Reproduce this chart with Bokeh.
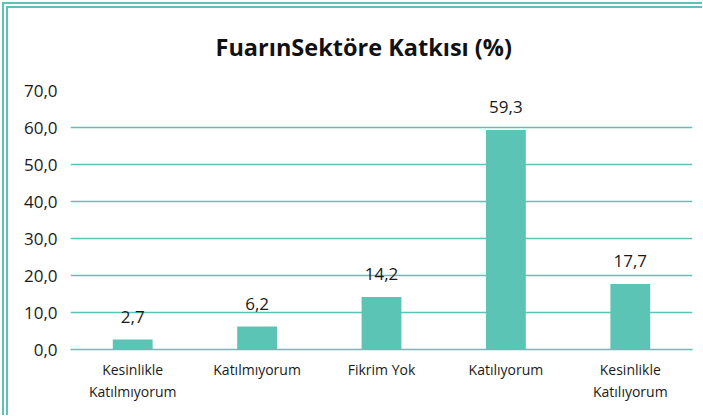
from bokeh.plotting import figure
from bokeh.models import ColumnDataSource, FixedTicker, LabelSet, Range1d, InlineStyleSheet
from bokeh.core.properties import value
from bokeh.embed import file_html
from bokeh.resources import INLINE

categories = ["Kesinlikle\nKatılmıyorum", "Katılmıyorum", "Fikrim Yok", "Katılıyorum", "Kesinlikle\nKatılıyorum"]
values = [2.7, 6.2, 14.2, 59.3, 17.7]
y_ticks = [0, 10, 20, 30, 40, 50, 60, 70]
y_tick_labels = ["0,0", "10,0", "20,0", "30,0", "40,0", "50,0", "60,0", "70,0"]
title_text = "FuarınSektöre Katkısı (%)"

TEAL = "#5bc4b5"
FONT = "Open Sans"
TXT = "#1a1a1a"

positions = list(range(len(categories)))
source = ColumnDataSource(dict(
    pos=positions,
    val=values,
    lab=[f"{v:.1f}".replace(".", ",") for v in values],
))

p = figure(
    x_range=Range1d(-0.5, len(categories) - 0.5),
    y_range=Range1d(0, 70),
    width=703, height=416,
    output_backend="svg", toolbar_location=None,
    min_border_left=70, min_border_right=11,
    min_border_top=90, min_border_bottom=67,
    title=title_text,
)
border_css = (
    ":host::after { content: ''; position: absolute; left: 2px; top: 2px; "
    "width: 700px; height: 413px; box-sizing: border-box; pointer-events: none; "
    "border-top: 6px double " + TEAL + "; border-left: 6px double " + TEAL + "; }"
)
p.stylesheets = [InlineStyleSheet(css=border_css)]
p.outline_line_color = None
p.background_fill_color = "white"
p.border_fill_color = "white"

p.title.align = "left"
p.title.offset = 145
p.title.text_font = FONT
p.title.text_font_style = "bold"
p.title.text_font_size = "23.5px"
p.title.text_color = "#111111"
p.title.standoff = 56

p.vbar(x="pos", top="val", width=0.32, source=source, color=TEAL, line_color=None)

labels = LabelSet(x="pos", y="val", text="lab", source=source, text_align="center",
                  text_baseline="alphabetic", y_offset=17, text_font=value(FONT),
                  text_font_size=value("17px"), text_color=TXT)
p.add_layout(labels)

p.ygrid.ticker = FixedTicker(ticks=y_ticks)
p.ygrid.grid_line_color = TEAL
p.ygrid.grid_line_width = 1.3
p.xgrid.grid_line_color = None

p.yaxis.ticker = FixedTicker(ticks=y_ticks)
p.yaxis.major_label_overrides = {t: l for t, l in zip(y_ticks, y_tick_labels)}
p.yaxis.axis_line_color = None
p.yaxis.major_tick_line_color = None
p.yaxis.minor_tick_line_color = None
p.yaxis.major_label_standoff = 7
p.yaxis.major_label_text_font = FONT
p.yaxis.major_label_text_font_size = "17px"
p.yaxis.major_label_text_color = TXT

p.xaxis.ticker = FixedTicker(ticks=positions)
p.xaxis.major_label_overrides = {i: c for i, c in zip(positions, categories)}
p.xaxis.axis_line_color = TEAL
p.xaxis.axis_line_width = 1.3
p.xaxis.major_tick_line_color = None
p.xaxis.minor_tick_line_color = None
p.xaxis.major_label_standoff = 4
p.xaxis.major_label_text_font = FONT
p.xaxis.major_label_text_font_size = "14px"
p.xaxis.major_label_text_color = TXT

open("out.html", "w").write(file_html(p, INLINE))
